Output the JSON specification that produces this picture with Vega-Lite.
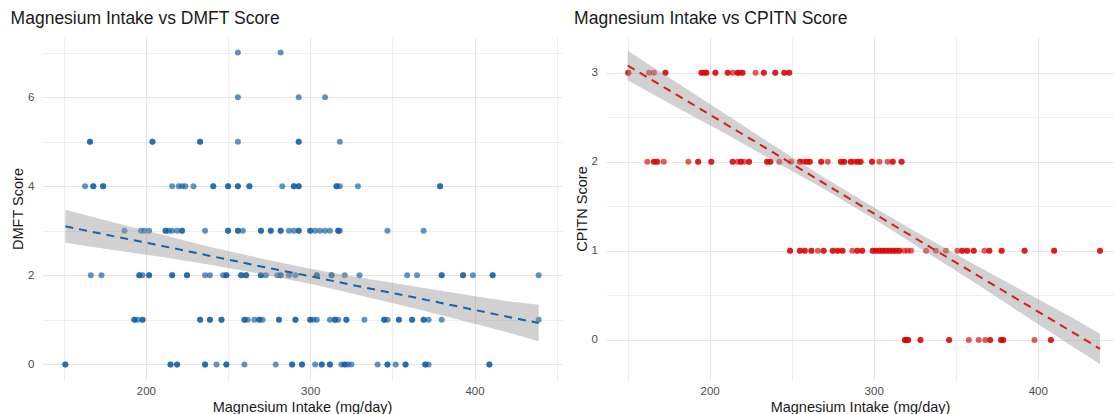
{
  "$schema": "https://vega.github.io/schema/vega-lite/v6.json",
  "padding": {"left": 10, "top": 9, "right": 0, "bottom": 0},
  "spacing": 12,
  "config": {
    "view": {"stroke": null},
    "font": "Liberation Sans",
    "title": {"fontSize": 17.5, "fontWeight": "normal", "anchor": "start", "color": "#1a1a1a", "offset": 10},
    "axis": {"domain": false, "ticks": false, "labelFontSize": 11.5, "labelColor": "#4d4d4d", "titleFontSize": 14.5, "titleFontWeight": "normal", "titleColor": "#1a1a1a", "gridColor": "#e6e6e6"}
  },
  "datasets": {
    "dmft": [
      {"m":256,"s":7},{"m":282,"s":7},
      {"m":256,"s":6},{"m":293,"s":6},{"m":309,"s":6},
      {"m":166,"s":5},{"m":166,"s":5},{"m":204,"s":5},{"m":204,"s":5},{"m":233,"s":5},{"m":233,"s":5},{"m":256,"s":5},{"m":293,"s":5},{"m":293,"s":5},{"m":318,"s":5},
      {"m":163,"s":4},{"m":168,"s":4},{"m":168,"s":4},{"m":174,"s":4},{"m":174,"s":4},{"m":216,"s":4},{"m":220,"s":4},{"m":222,"s":4},{"m":224,"s":4},{"m":229,"s":4},{"m":241,"s":4},{"m":241,"s":4},{"m":250,"s":4},{"m":250,"s":4},{"m":256,"s":4},{"m":256,"s":4},{"m":263,"s":4},{"m":263,"s":4},{"m":283,"s":4},{"m":290,"s":4},{"m":290,"s":4},{"m":293,"s":4},{"m":293,"s":4},{"m":316,"s":4},{"m":316,"s":4},{"m":318,"s":4},{"m":329,"s":4},{"m":379,"s":4},{"m":379,"s":4},
      {"m":187,"s":3},{"m":197,"s":3},{"m":199,"s":3},{"m":202,"s":3},{"m":212,"s":3},{"m":212,"s":3},{"m":214,"s":3},{"m":216,"s":3},{"m":219,"s":3},{"m":222,"s":3},{"m":222,"s":3},{"m":236,"s":3},{"m":250,"s":3},{"m":250,"s":3},{"m":256,"s":3},{"m":256,"s":3},{"m":259,"s":3},{"m":270,"s":3},{"m":270,"s":3},{"m":276,"s":3},{"m":276,"s":3},{"m":282,"s":3},{"m":282,"s":3},{"m":287,"s":3},{"m":290,"s":3},{"m":293,"s":3},{"m":293,"s":3},{"m":300,"s":3},{"m":300,"s":3},{"m":303,"s":3},{"m":306,"s":3},{"m":309,"s":3},{"m":312,"s":3},{"m":317,"s":3},{"m":317,"s":3},{"m":318,"s":3},{"m":347,"s":3},{"m":369,"s":3},
      {"m":166.5,"s":2},{"m":173,"s":2},{"m":196,"s":2},{"m":196,"s":2},{"m":198,"s":2},{"m":202,"s":2},{"m":202,"s":2},{"m":216,"s":2},{"m":216,"s":2},{"m":225,"s":2},{"m":225,"s":2},{"m":236,"s":2},{"m":239,"s":2},{"m":247,"s":2},{"m":249,"s":2},{"m":249,"s":2},{"m":258,"s":2},{"m":258,"s":2},{"m":261,"s":2},{"m":261,"s":2},{"m":270,"s":2},{"m":270,"s":2},{"m":273,"s":2},{"m":280,"s":2},{"m":282,"s":2},{"m":282,"s":2},{"m":287,"s":2},{"m":291,"s":2},{"m":304,"s":2},{"m":304,"s":2},{"m":313,"s":2},{"m":313,"s":2},{"m":321,"s":2},{"m":330,"s":2},{"m":359,"s":2},{"m":365,"s":2},{"m":380,"s":2},{"m":380,"s":2},{"m":393,"s":2},{"m":393,"s":2},{"m":399,"s":2},{"m":411,"s":2},{"m":411,"s":2},{"m":439,"s":2},
      {"m":193,"s":1},{"m":193,"s":1},{"m":195,"s":1},{"m":198,"s":1},{"m":198,"s":1},{"m":233,"s":1},{"m":233,"s":1},{"m":239,"s":1},{"m":239,"s":1},{"m":246,"s":1},{"m":246,"s":1},{"m":260,"s":1},{"m":260,"s":1},{"m":262,"s":1},{"m":266,"s":1},{"m":269,"s":1},{"m":269,"s":1},{"m":271,"s":1},{"m":281,"s":1},{"m":281,"s":1},{"m":291,"s":1},{"m":291,"s":1},{"m":300,"s":1},{"m":300,"s":1},{"m":302,"s":1},{"m":304,"s":1},{"m":312,"s":1},{"m":315,"s":1},{"m":315,"s":1},{"m":317,"s":1},{"m":322,"s":1},{"m":322,"s":1},{"m":333,"s":1},{"m":345,"s":1},{"m":345,"s":1},{"m":347,"s":1},{"m":354,"s":1},{"m":354,"s":1},{"m":362,"s":1},{"m":362,"s":1},{"m":369,"s":1},{"m":369,"s":1},{"m":372,"s":1},{"m":380,"s":1},{"m":439,"s":1},
      {"m":151,"s":0},{"m":151,"s":0},{"m":215,"s":0},{"m":215,"s":0},{"m":219,"s":0},{"m":219,"s":0},{"m":236,"s":0},{"m":236,"s":0},{"m":243,"s":0},{"m":249,"s":0},{"m":249,"s":0},{"m":260,"s":0},{"m":279,"s":0},{"m":289,"s":0},{"m":289,"s":0},{"m":295,"s":0},{"m":295,"s":0},{"m":303,"s":0},{"m":307,"s":0},{"m":307,"s":0},{"m":312,"s":0},{"m":312,"s":0},{"m":319,"s":0},{"m":321,"s":0},{"m":321,"s":0},{"m":323,"s":0},{"m":325,"s":0},{"m":341,"s":0},{"m":347,"s":0},{"m":347,"s":0},{"m":352,"s":0},{"m":358,"s":0},{"m":358,"s":0},{"m":370,"s":0},{"m":370,"s":0},{"m":372,"s":0},{"m":409,"s":0},{"m":409,"s":0}
    ],
    "cpitn": [
      {"m":150.4,"s":3},{"m":150.4,"s":3},{"m":163,"s":3},{"m":166,"s":3},{"m":173,"s":3},{"m":173,"s":3},{"m":195,"s":3},{"m":195,"s":3},{"m":196.5,"s":3},{"m":198,"s":3},{"m":198,"s":3},{"m":203.5,"s":3},{"m":203.5,"s":3},{"m":211,"s":3},{"m":211,"s":3},{"m":214,"s":3},{"m":217,"s":3},{"m":217,"s":3},{"m":218,"s":3},{"m":220,"s":3},{"m":220,"s":3},{"m":228,"s":3},{"m":233,"s":3},{"m":233,"s":3},{"m":240,"s":3},{"m":240,"s":3},{"m":245.5,"s":3},{"m":245.5,"s":3},{"m":248.5,"s":3},{"m":248.5,"s":3},
      {"m":162,"s":2},{"m":166,"s":2},{"m":166,"s":2},{"m":168,"s":2},{"m":168,"s":2},{"m":172,"s":2},{"m":187,"s":2},{"m":193,"s":2},{"m":193,"s":2},{"m":201,"s":2},{"m":201,"s":2},{"m":214,"s":2},{"m":214,"s":2},{"m":217,"s":2},{"m":219,"s":2},{"m":219,"s":2},{"m":221,"s":2},{"m":224,"s":2},{"m":224,"s":2},{"m":235,"s":2},{"m":235,"s":2},{"m":237,"s":2},{"m":237,"s":2},{"m":242.5,"s":2},{"m":249.6,"s":2},{"m":255,"s":2},{"m":255,"s":2},{"m":257,"s":2},{"m":259,"s":2},{"m":259,"s":2},{"m":261,"s":2},{"m":261,"s":2},{"m":268,"s":2},{"m":268,"s":2},{"m":272,"s":2},{"m":280,"s":2},{"m":280,"s":2},{"m":282,"s":2},{"m":282,"s":2},{"m":286,"s":2},{"m":286,"s":2},{"m":288,"s":2},{"m":290,"s":2},{"m":290,"s":2},{"m":292,"s":2},{"m":292,"s":2},{"m":299,"s":2},{"m":299,"s":2},{"m":303.5,"s":2},{"m":308.5,"s":2},{"m":311.6,"s":2},{"m":311.6,"s":2},{"m":317,"s":2},{"m":317,"s":2},
      {"m":249,"s":1},{"m":249,"s":1},{"m":255,"s":1},{"m":255,"s":1},{"m":258,"s":1},{"m":258,"s":1},{"m":262,"s":1},{"m":262,"s":1},{"m":266,"s":1},{"m":269.5,"s":1},{"m":269.5,"s":1},{"m":275,"s":1},{"m":275,"s":1},{"m":278,"s":1},{"m":278,"s":1},{"m":281,"s":1},{"m":281,"s":1},{"m":287,"s":1},{"m":290,"s":1},{"m":290,"s":1},{"m":293,"s":1},{"m":293,"s":1},{"m":299.4,"s":1},{"m":299.4,"s":1},{"m":301.4,"s":1},{"m":301.4,"s":1},{"m":303.5,"s":1},{"m":303.5,"s":1},{"m":305.5,"s":1},{"m":305.5,"s":1},{"m":307.5,"s":1},{"m":307.5,"s":1},{"m":309.6,"s":1},{"m":309.6,"s":1},{"m":311.6,"s":1},{"m":311.6,"s":1},{"m":313.6,"s":1},{"m":313.6,"s":1},{"m":315.7,"s":1},{"m":315.7,"s":1},{"m":318.7,"s":1},{"m":320.7,"s":1},{"m":322.8,"s":1},{"m":332,"s":1},{"m":338,"s":1},{"m":344,"s":1},{"m":351,"s":1},{"m":354,"s":1},{"m":354,"s":1},{"m":357,"s":1},{"m":357,"s":1},{"m":361,"s":1},{"m":361,"s":1},{"m":367.5,"s":1},{"m":370.5,"s":1},{"m":370.5,"s":1},{"m":378,"s":1},{"m":378,"s":1},{"m":392,"s":1},{"m":392,"s":1},{"m":410,"s":1},{"m":410,"s":1},{"m":438,"s":1},{"m":438,"s":1},
      {"m":319,"s":0},{"m":319,"s":0},{"m":320,"s":0},{"m":320,"s":0},{"m":321,"s":0},{"m":321,"s":0},{"m":328.5,"s":0},{"m":328.5,"s":0},{"m":346,"s":0},{"m":346,"s":0},{"m":358,"s":0},{"m":364,"s":0},{"m":368,"s":0},{"m":371,"s":0},{"m":371,"s":0},{"m":377.6,"s":0},{"m":377.6,"s":0},{"m":379,"s":0},{"m":379,"s":0},{"m":398,"s":0},{"m":408,"s":0},{"m":408,"s":0}
    ],
    "dmft_fit": [
      {"m":151,"fit":3.10,"lo":2.73,"hi":3.47},
      {"m":180,"fit":2.88,"lo":2.57,"hi":3.19},
      {"m":210,"fit":2.66,"lo":2.41,"hi":2.91},
      {"m":240,"fit":2.43,"lo":2.23,"hi":2.63},
      {"m":270,"fit":2.20,"lo":2.03,"hi":2.38},
      {"m":300,"fit":1.98,"lo":1.81,"hi":2.15},
      {"m":330,"fit":1.75,"lo":1.55,"hi":1.95},
      {"m":360,"fit":1.53,"lo":1.29,"hi":1.77},
      {"m":390,"fit":1.30,"lo":1.01,"hi":1.59},
      {"m":420,"fit":1.07,"lo":0.72,"hi":1.42},
      {"m":439,"fit":0.93,"lo":0.52,"hi":1.34}
    ],
    "cpitn_fit": [
      {"m":150,"fit":3.08,"lo":2.915,"hi":3.245},
      {"m":180,"fit":2.75,"lo":2.61,"hi":2.89},
      {"m":210,"fit":2.42,"lo":2.31,"hi":2.53},
      {"m":240,"fit":2.09,"lo":2.00,"hi":2.17},
      {"m":270,"fit":1.755,"lo":1.69,"hi":1.82},
      {"m":300,"fit":1.42,"lo":1.36,"hi":1.49},
      {"m":330,"fit":1.09,"lo":1.01,"hi":1.17},
      {"m":360,"fit":0.76,"lo":0.66,"hi":0.86},
      {"m":390,"fit":0.43,"lo":0.30,"hi":0.56},
      {"m":420,"fit":0.10,"lo":-0.06,"hi":0.26},
      {"m":438,"fit":-0.10,"lo":-0.27,"hi":0.07}
    ]
  },
  "hconcat": [
    {
      "title": "Magnesium Intake vs DMFT Score",
      "width": 520,
      "height": 343,
      "layer": [
        {
          "data": {"name": "dmft"},
          "mark": {"type": "circle", "size": 36, "opacity": 0.65, "color": "#0a5aa5"},
          "encoding": {
            "x": {"field": "m", "type": "quantitative", "title": "Magnesium Intake (mg/day)",
                  "scale": {"domain": [136.8, 453.2], "nice": false, "zero": false},
                  "axis": {"values": [150, 200, 250, 300, 350, 400, 450], "labelExpr": "datum.value % 100 === 0 ? datum.label : ''", "labelPadding": 5, "titlePadding": 4,
                           "gridWidth": {"condition": {"test": "datum.value % 100 === 0", "value": 1.1}, "value": 0.7}}},
            "y": {"field": "s", "type": "quantitative", "title": "DMFT Score",
                  "scale": {"domain": [-0.35, 7.35], "nice": false, "zero": false},
                  "axis": {"values": [0, 1, 2, 3, 4, 5, 6, 7], "labelExpr": "datum.value % 2 === 0 ? format(datum.value, 'd') : ''", "labelPadding": 8, "titlePadding": 2,
                           "gridWidth": {"condition": {"test": "datum.value % 2 === 0", "value": 1.1}, "value": 0.7}}}
          }
        },
        {
          "data": {"name": "dmft_fit"},
          "mark": {"type": "area", "color": "#999999", "opacity": 0.45},
          "encoding": {
            "x": {"field": "m", "type": "quantitative", "title": "Magnesium Intake (mg/day)"},
            "y": {"field": "lo", "type": "quantitative", "title": "DMFT Score"},
            "y2": {"field": "hi"}
          }
        },
        {
          "data": {"name": "dmft_fit"},
          "mark": {"type": "line", "color": "#1563a8", "strokeDash": [8, 6], "strokeWidth": 2},
          "encoding": {
            "x": {"field": "m", "type": "quantitative", "title": "Magnesium Intake (mg/day)"},
            "y": {"field": "fit", "type": "quantitative", "title": "DMFT Score"}
          }
        }
      ]
    },
    {
      "title": "Magnesium Intake vs CPITN Score",
      "width": 508,
      "height": 343,
      "layer": [
        {
          "data": {"name": "cpitn"},
          "mark": {"type": "circle", "size": 36, "opacity": 0.65, "color": "#dc0000"},
          "encoding": {
            "x": {"field": "m", "type": "quantitative", "title": "Magnesium Intake (mg/day)",
                  "scale": {"domain": [136.8, 446.5], "nice": false, "zero": false},
                  "axis": {"values": [150, 200, 250, 300, 350, 400], "labelExpr": "datum.value % 100 === 0 ? datum.label : ''", "labelPadding": 5, "titlePadding": 4,
                           "gridWidth": {"condition": {"test": "datum.value % 100 === 0", "value": 1.1}, "value": 0.7}}},
            "y": {"field": "s", "type": "quantitative", "title": "CPITN Score",
                  "scale": {"domain": [-0.45, 3.4], "nice": false, "zero": false},
                  "axis": {"values": [0, 0.5, 1, 1.5, 2, 2.5, 3], "labelExpr": "datum.value % 1 === 0 ? format(datum.value, 'd') : ''", "labelPadding": 8.5, "titlePadding": 2,
                           "gridWidth": {"condition": {"test": "datum.value % 1 === 0", "value": 1.1}, "value": 0.7}}}
          }
        },
        {
          "data": {"name": "cpitn_fit"},
          "mark": {"type": "area", "color": "#999999", "opacity": 0.45},
          "encoding": {
            "x": {"field": "m", "type": "quantitative", "title": "Magnesium Intake (mg/day)"},
            "y": {"field": "lo", "type": "quantitative", "title": "CPITN Score"},
            "y2": {"field": "hi"}
          }
        },
        {
          "data": {"name": "cpitn_fit"},
          "mark": {"type": "line", "color": "#d81b1b", "strokeDash": [8, 6], "strokeWidth": 2},
          "encoding": {
            "x": {"field": "m", "type": "quantitative", "title": "Magnesium Intake (mg/day)"},
            "y": {"field": "fit", "type": "quantitative", "title": "CPITN Score"}
          }
        }
      ]
    }
  ]
}
